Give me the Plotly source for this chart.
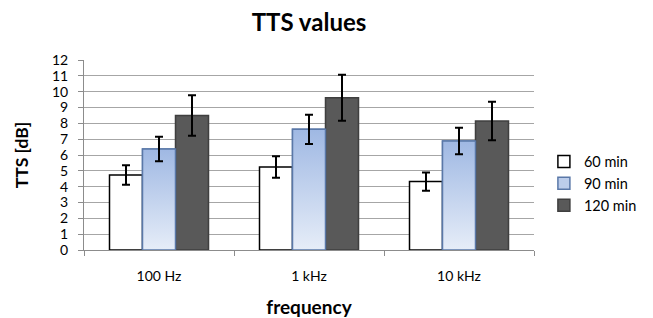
import plotly.graph_objects as go

categories = ["100 Hz", "1 kHz", "10 kHz"]
series = ["60 min", "90 min", "120 min"]
values = {
    "60 min": [4.74, 5.24, 4.32],
    "90 min": [6.38, 7.62, 6.88],
    "120 min": [8.50, 9.62, 8.15],
}
errors = {
    "60 min": [0.62, 0.68, 0.57],
    "90 min": [0.78, 0.92, 0.84],
    "120 min": [1.28, 1.45, 1.22],
}
yticks = list(range(0, 13))

bar_w = 0.22
fills = {"60 min": "#ffffff", "90 min": "#bccdeb", "120 min": "#595959"}
lines = {"60 min": "#000000", "90 min": "#5a78a8", "120 min": "#3f3f3f"}

FONT = "Lato"
fig = go.Figure()

for j, s in enumerate(series):
    xs = [i + (j - 1) * bar_w for i in range(len(categories))]
    fig.add_trace(go.Bar(
        x=xs, y=values[s], width=bar_w, name=s, legendgroup=s,
        marker=dict(color=fills[s], line=dict(color=lines[s], width=1.5)),
        showlegend=True,
    ))

# gradient overlay for 90 min bars
for i in range(len(categories)):
    xc = i
    y = values["90 min"][i]
    fig.add_trace(go.Scatter(
        x=[xc - bar_w / 2, xc + bar_w / 2, xc + bar_w / 2, xc - bar_w / 2, xc - bar_w / 2],
        y=[0, 0, y, y, 0],
        fill="toself", mode="lines",
        line=dict(color="#5a78a8", width=1.5),
        fillgradient=dict(type="vertical", colorscale=[[0, "#e6edf8"], [1, "#9fb8e3"]]),
        showlegend=False, hoverinfo="skip",
    ))

# error bars
for j, s in enumerate(series):
    xs = [i + (j - 1) * bar_w for i in range(len(categories))]
    fig.add_trace(go.Scatter(
        x=xs, y=values[s], mode="markers", marker=dict(size=0.1, color="rgba(0,0,0,0)"),
        error_y=dict(type="data", array=errors[s], color="#000000", thickness=2, width=4),
        showlegend=False, hoverinfo="skip",
    ))

fig.update_layout(
    width=653, height=318,
    margin=dict(l=84, r=119, t=60, b=68, autoexpand=False),
    paper_bgcolor="white", plot_bgcolor="white",
    barmode="overlay",
    font=dict(family=FONT, color="#000000", size=13),
    title=dict(text="<b>TTS values</b>", x=0.5, xanchor="center", xref="paper",
               y=0.93, yanchor="middle", yref="container", font=dict(size=24, family=FONT)),
    legend=dict(x=1.022, y=0.35, xanchor="left", yanchor="middle",
                font=dict(size=14.5, family=FONT), tracegroupgap=0, itemwidth=30),
    showlegend=True,
)
fig.update_xaxes(
    range=[-0.5, 2.5], automargin=False,
    tickvals=list(range(len(categories))), ticktext=categories, ticks="",
    showgrid=False, showline=True, linecolor="#8c8c8c", linewidth=1,
    tickfont=dict(size=14, family=FONT), ticklabelstandoff=13,
    minor=dict(ticks="outside", tick0=-0.5, dtick=1, ticklen=5, tickcolor="#8c8c8c", showgrid=False),
    title=dict(text="<b>frequency</b>", font=dict(size=19, family=FONT), standoff=22),
    zeroline=False,
)
fig.update_yaxes(
    range=[0, 12], tickvals=yticks, automargin=False,
    showgrid=True, gridcolor="#a6a6a6", gridwidth=1,
    showline=True, linecolor="#8c8c8c", linewidth=1,
    ticks="outside", ticklen=5, tickcolor="#8c8c8c",
    tickfont=dict(size=14, family=FONT), ticklabelstandoff=7,
    title=dict(text="<b>TTS [dB]</b>", font=dict(size=17.5, family=FONT), standoff=18),
    zeroline=False,
)

fig.write_html("out.html", config={"displayModeBar": False},
               post_script="document.body.style.margin='0';")
